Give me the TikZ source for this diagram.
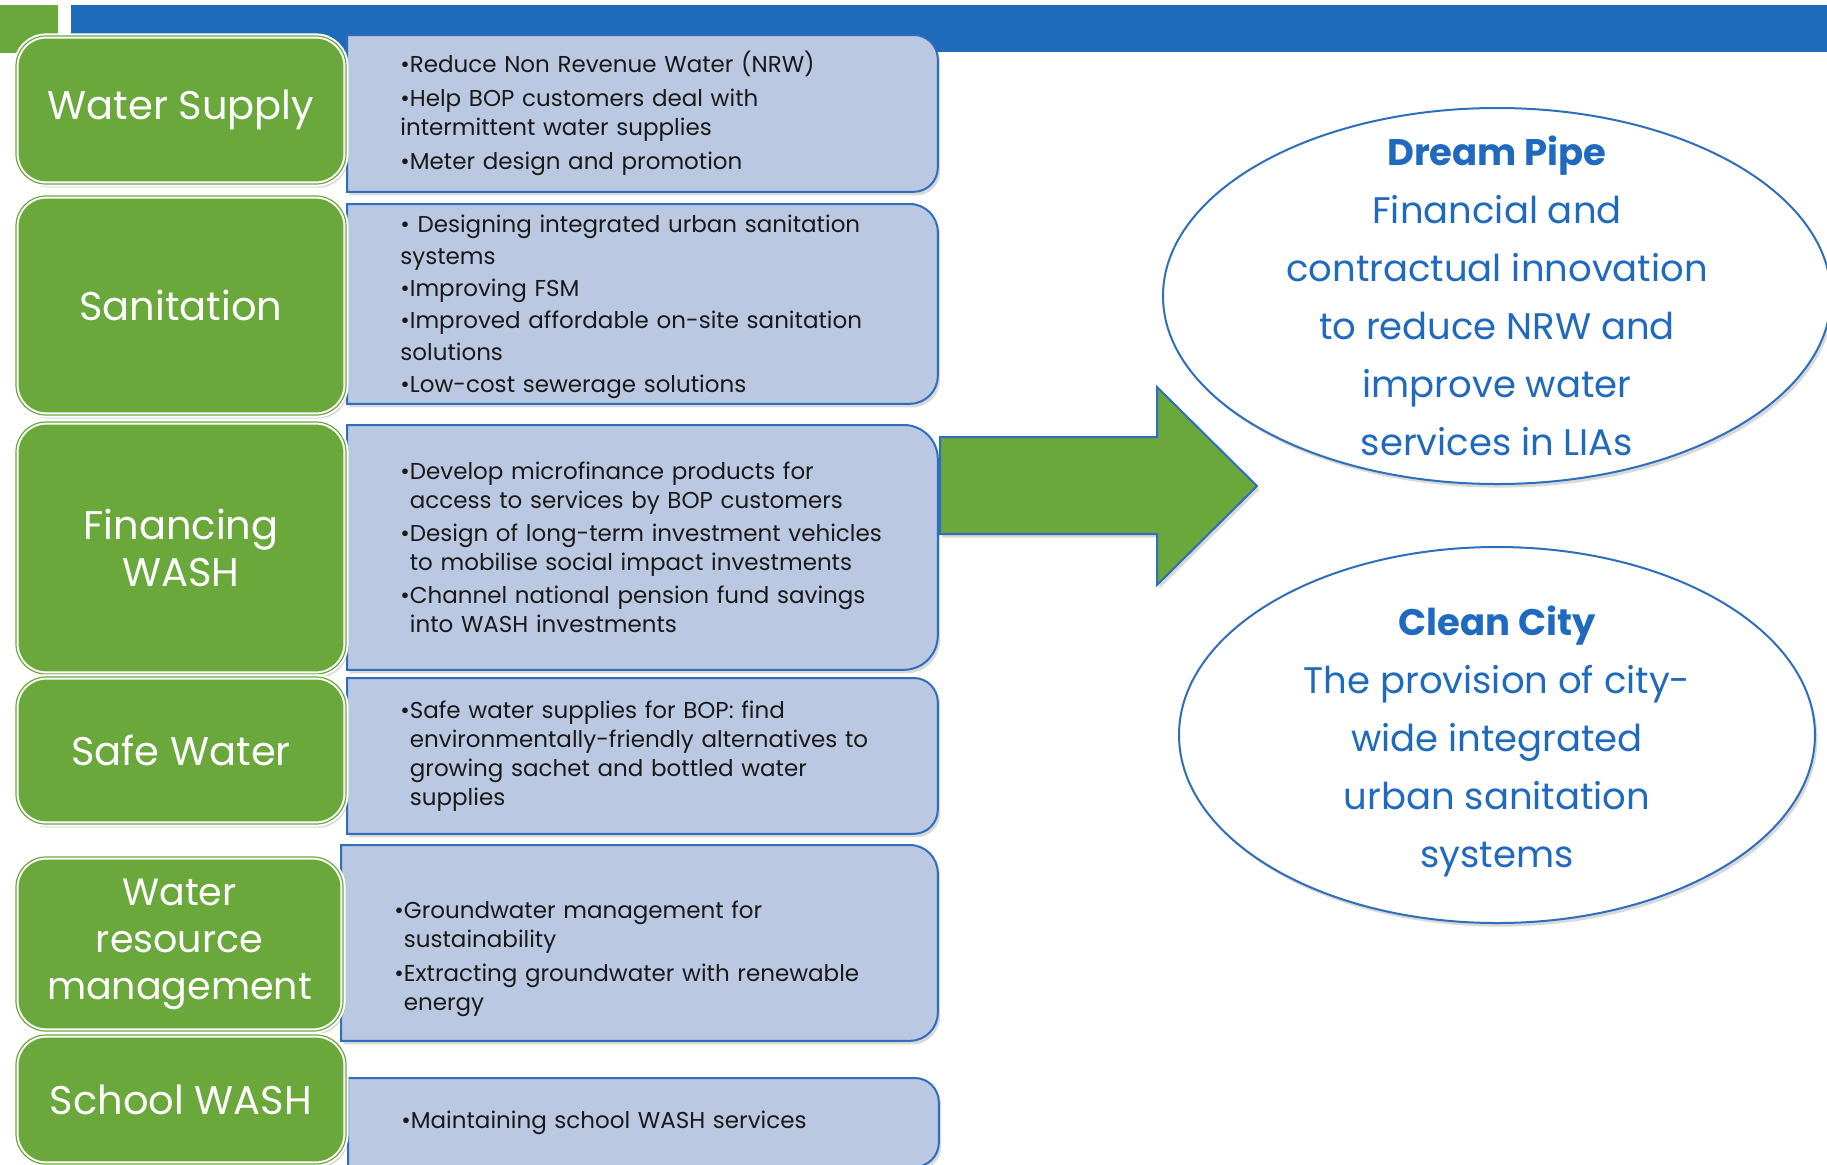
\documentclass[tikz,border=0pt]{standalone}
\usepackage{fontspec}
\setmainfont{Poppins}
\usetikzlibrary{shapes.geometric,shadows,backgrounds}
\definecolor{boxgreen}{RGB}{106,168,60}
\definecolor{barblue}{RGB}{30,107,185}
\definecolor{panelfill}{RGB}{187,200,225}
\definecolor{panelline}{RGB}{46,110,188}
\definecolor{goalblue}{RGB}{31,106,190}
\newcommand\topicfont{\fontsize{20}{23.5}\selectfont}
\newcommand\bulletfont{\fontsize{11.5}{14.5}\selectfont}
\newcommand\goalfont{\fontsize{18.5}{29}\selectfont}
\newcommand\hang{\phantom{•}}
\newcommand\panelshape[2]{%
  \begin{scope}[on background layer]
    \filldraw[panelbox] (#1.north west) -- ([xshift=-#2]#1.north east)
      arc[start angle=90,end angle=0,radius=#2]
      -- ([yshift=#2]#1.south east)
      arc[start angle=0,end angle=-90,radius=#2]
      -- (#1.south west) -- cycle;
  \end{scope}}
\tikzset{
  >=latex,
  soft shadow/.style={drop shadow={shadow xshift=1.2pt,shadow yshift=-1.8pt,opacity=0.3}},
}
\tikzstyle{topic}=[anchor=north west,rounded corners=15pt,fill=boxgreen,
  draw=white,double=boxgreen,line width=1pt,double distance=0.6pt,
  soft shadow,minimum width=165pt,text=white,font=\topicfont,align=center]
\tikzstyle{panel}=[anchor=north west,text width=287pt,inner xsep=4pt,
  inner ysep=0pt,align=left,font=\bulletfont,text=black!90,
  execute at begin node={\leftskip=22.5pt\relax}]
\tikzstyle{panelbox}=[fill=panelfill,draw=panelline,line width=1pt,soft shadow]
\tikzstyle{goal}=[ellipse,draw=panelline,line width=1pt,fill=white,soft shadow]
\tikzstyle{goaltext}=[align=center,font=\goalfont,text=goalblue,inner sep=0pt]
\tikzstyle{bigarrow}=[fill=boxgreen,draw=panelline,line width=1pt,soft shadow]

\begin{document}
\begin{tikzpicture}[x=0.5pt,y=-0.5pt]
  \useasboundingbox (0,0) rectangle (1827,1164);
  \clip (0,0) rectangle (1827,1164);
  \begin{scope}[on background layer]
    \fill[boxgreen] (0,5) rectangle (58,53);
    \fill[barblue] (71,5) rectangle (1827,52);
  \end{scope}

  \node[panel,minimum height=78pt] (ws-p) at (347,35) {%
    •Reduce Non Revenue Water (NRW)\\[2.5pt]
    •Help BOP customers deal with\\
    intermittent water supplies\\[2.5pt]
    •Meter design and promotion};
  \panelshape{ws-p}{12pt}
  \node[panel,minimum height=99.5pt,font=\fontsize{11.5}{16}\selectfont] (san-p) at (347,204) {%
    \rule{0pt}{12pt}• Designing integrated urban sanitation\\
    systems\\
    •Improving FSM\\
    •Improved affordable on-site sanitation\\
    solutions\\
    •Low-cost sewerage solutions};
  \panelshape{san-p}{14pt}
  \node[panel,minimum height=122pt] (fin-p) at (347,425) {%
    •Develop microfinance products for\\
    \hang access to services by BOP customers\\[2pt]
    •Design of long-term investment vehicles\\
    \hang to mobilise social impact investments\\[2pt]
    •Channel national pension fund savings\\
    \hang into WASH investments};
  \panelshape{fin-p}{17pt}
  \node[panel,minimum height=77.5pt] (sw-p) at (347,678) {%
    •Safe water supplies for BOP: find\\
    \hang environmentally-friendly alternatives to\\
    \hang growing sachet and bottled water\\
    \hang supplies};
  \panelshape{sw-p}{12pt}
  \node[panel,minimum height=97.5pt,text width=290pt] (wrm-p) at (341,845) {%
    \rule{0pt}{25pt}•Groundwater management for\\
    \hang sustainability\\[2.5pt]
    •Extracting groundwater with renewable\\
    \hang energy};
  \panelshape{wrm-p}{14pt}
  \node[panel,minimum height=44pt] (sch-p) at (348,1078) {%
    •Maintaining school WASH services};
  \panelshape{sch-p}{12pt}

  \node[topic,minimum height=74pt] (ws) at (15,35) {Water Supply};
  \node[topic,minimum height=109.5pt] (san) at (15,195) {Sanitation};
  \node[topic,minimum height=126pt] (fin) at (15,421) {Financing\\WASH};
  \node[topic,minimum height=73.5pt] (sw) at (15,676) {Safe Water};
  \node[topic,minimum height=87pt,minimum width=163.5pt,font=\fontsize{19}{23.5}\selectfont]
    (wrm) at (15,856) {Water\\resource\\management};
  \node[topic,minimum height=64.5pt] (sch) at (15,1034) {School WASH};

  \filldraw[bigarrow] (940,437) -- (1157,437) -- (1157,387) -- (1257,486)
    -- (1157,585) -- (1157,534) -- (940,534) -- cycle;

  \node[goal,minimum width=334pt,minimum height=188pt] (dp) at (1497,296) {};
  \node[goaltext] (dp-t) at (dp.center) {\textbf{Dream Pipe}\\Financial and\\
    contractual innovation\\to reduce NRW and\\improve water\\services in LIAs};
  \node[goal,minimum width=318pt,minimum height=188pt] (cc) at (1497,735) {};
  \node[goaltext] (cc-t) at ([yshift=-3pt]cc.center) {\textbf{Clean City}\\The provision of city-\\
    wide integrated\\urban sanitation\\systems};
\end{tikzpicture}
\end{document}
